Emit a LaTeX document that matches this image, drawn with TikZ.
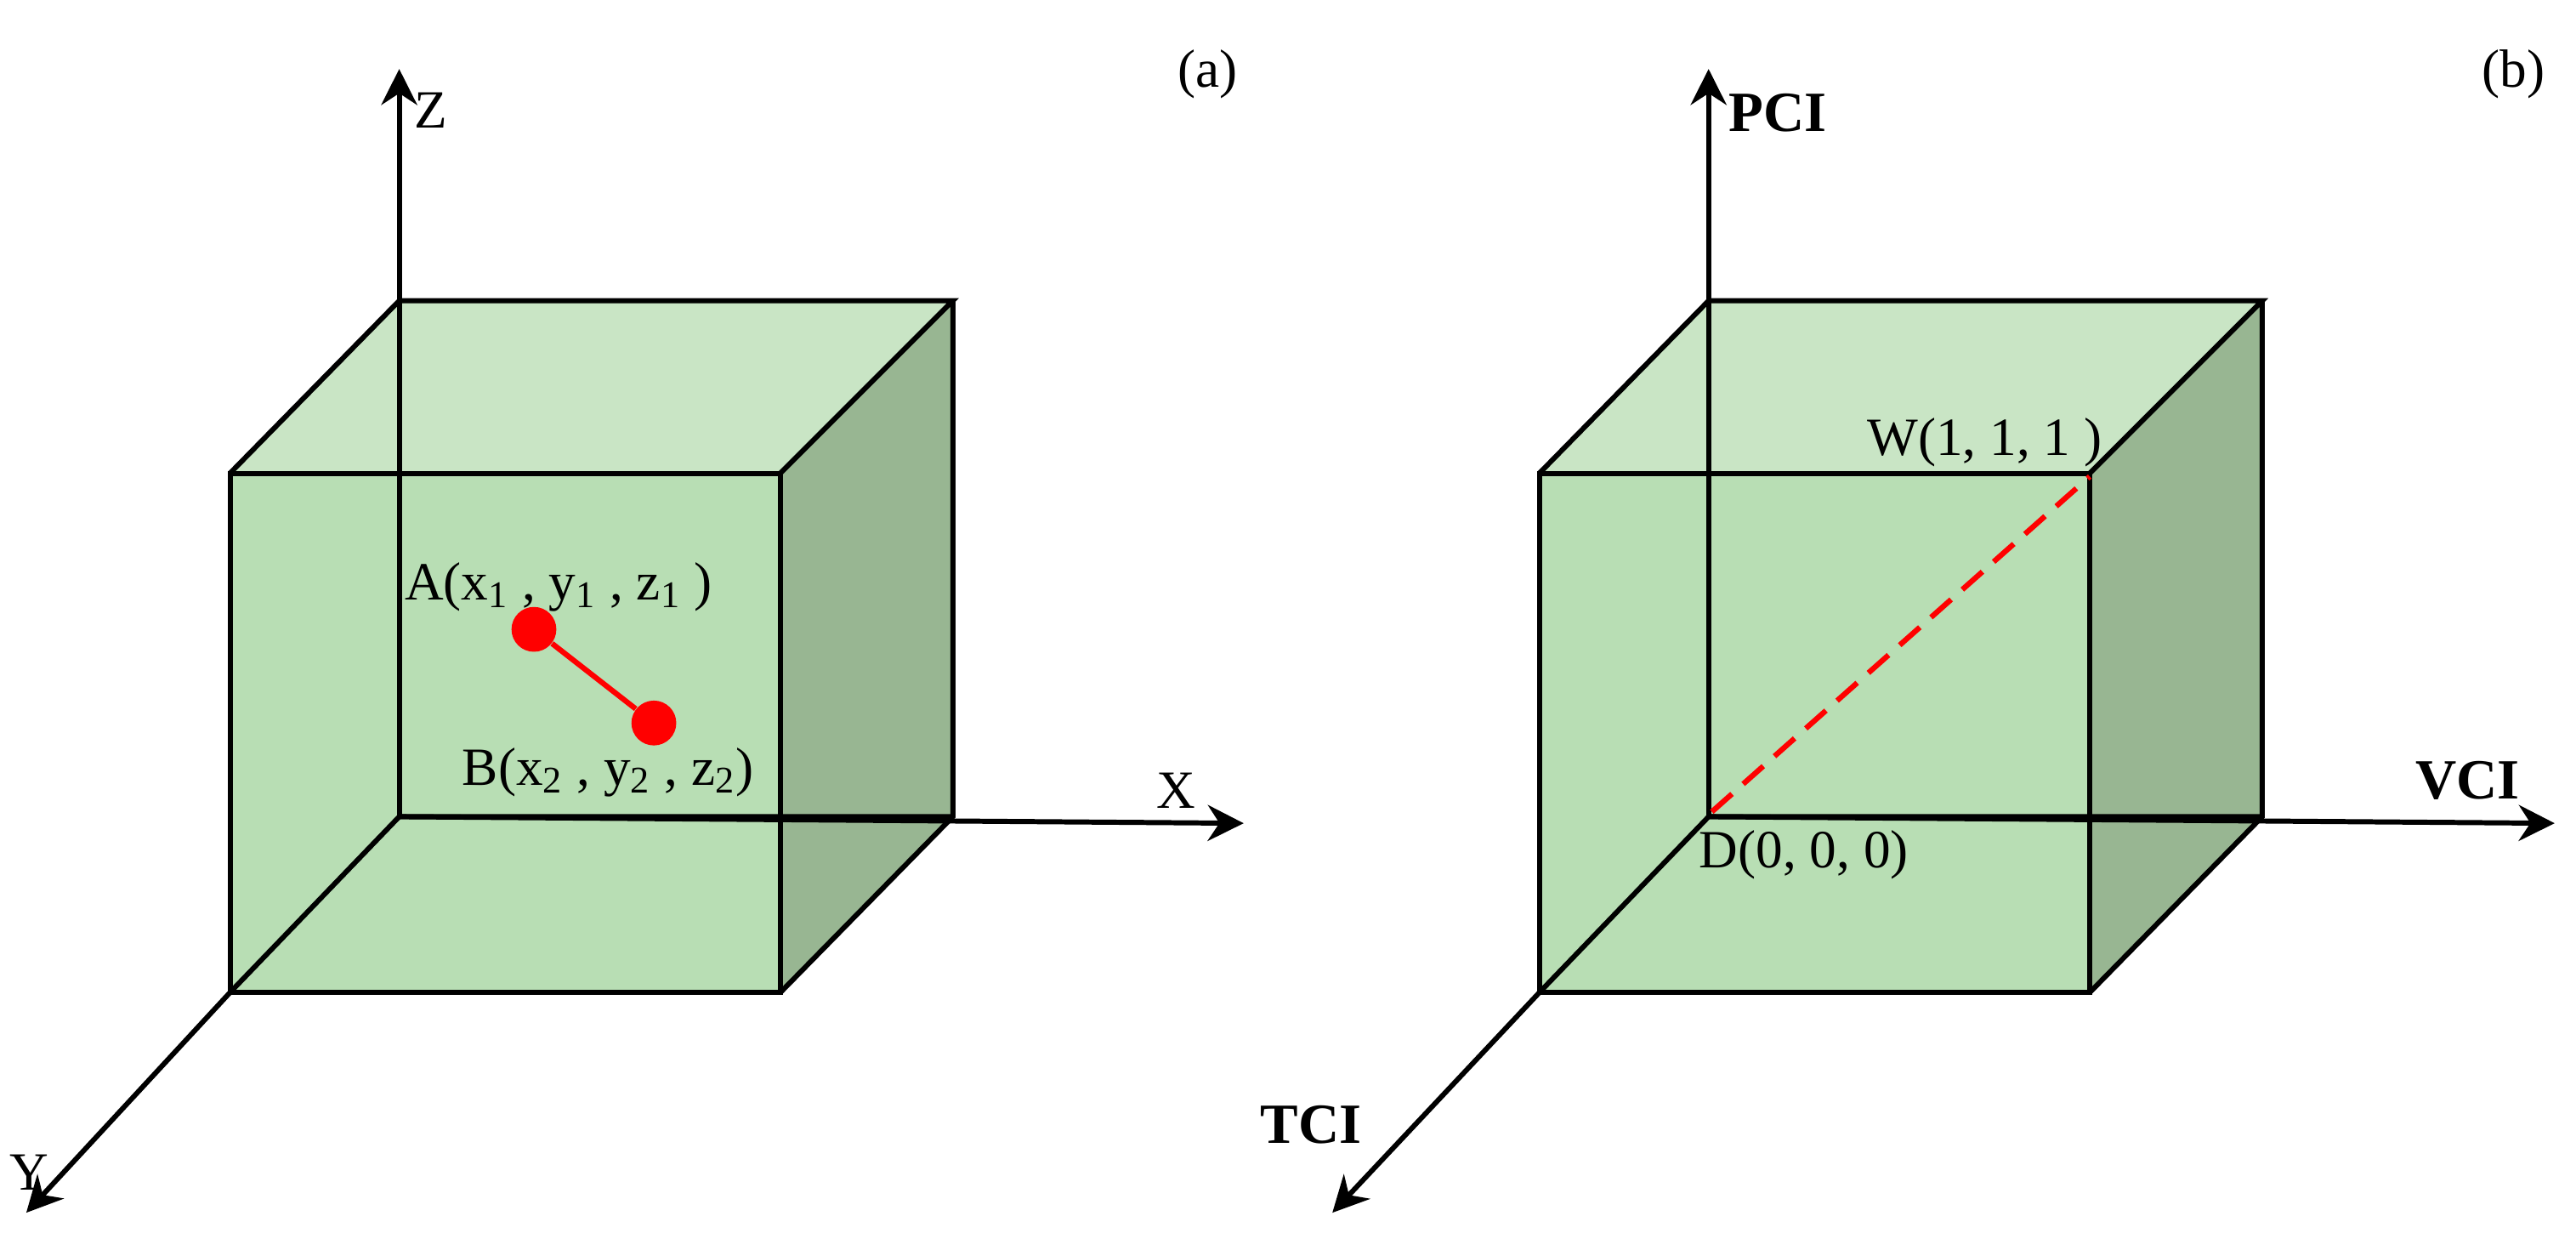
\documentclass[tikz,border=0pt]{standalone}
\usepackage{fontspec}
\setmainfont{Liberation Serif}
\usetikzlibrary{arrows.meta}
\definecolor{frontc}{RGB}{184,222,180}
\definecolor{topc}{RGB}{201,229,197}
\definecolor{sidec}{RGB}{152,182,146}
\tikzset{edge/.style={line width=1.7pt,line join=miter},
 axis/.style={line width=1.7pt,-{Stealth[length=12pt,width=12pt]}},
 lbl/.style={font=\fontsize{18}{21}\selectfont,inner sep=0pt},
 blbl/.style={font=\fontsize{19}{22}\selectfont\bfseries,inner sep=0pt},
 dotc/.style={circle,fill=red,inner sep=0pt,minimum size=15pt}}
\newcommand{\cube}[1]{%
 \begin{scope}[shift={(#1,0)}]
 \fill[topc] (140,288)--(243,183)--(580,183)--(475,288)--cycle;
 \fill[sidec] (475,288)--(580,183)--(580,497)--(475,604)--cycle;
 \fill[frontc] (140,288) rectangle (475,604);
 \draw[edge] (243,497)--(580,497) (243,497)--(140,604);
 \draw[edge] (140,288)--(243,183)--(580,183)--(475,288) (580,183)--(580,497)--(475,604);
 \draw[edge] (140,288) rectangle (475,604);
 \end{scope}}
\begin{document}
\begin{tikzpicture}[x=0.01932cm,y=-0.01932cm]
\useasboundingbox (0,0) rectangle (1568,750);
\cube{0}
\cube{797}
% left axes
\coordinate (o1) at (243,497);
\coordinate (zt) at (243,42);
\coordinate (xt) at (757,501);
\coordinate (f1) at (140,604);
\coordinate (yt) at (16,738);
\draw[axis] (o1) -- (zt);
\draw[axis] (o1) -- (xt);
\draw[axis] (f1) -- (yt);
\draw[edge] (243,183)--(o1);
\node[lbl,anchor=base west] at (252,78) {Z};
\node[lbl,anchor=base] at (716,492) {X};
\node[lbl,anchor=base] at (18,724) {Y};
\node[lbl] at (735,45) {(a)};
\node[dotc] (A) at (325,383) {};
\node[dotc] (B) at (398,440) {};
\draw[red,line width=1.8pt] (A) -- (B);
\node[lbl,anchor=base] at (340,365) {A(x\textsubscript{1} , y\textsubscript{1} , z\textsubscript{1} )};
\node[lbl,anchor=base] at (370,478) {B(x\textsubscript{2} , y\textsubscript{2} , z\textsubscript{2})};
% right axes
\coordinate (o2) at (1040,497);
\coordinate (pt) at (1040,42);
\coordinate (vt) at (1555,501);
\coordinate (f2) at (937,604);
\coordinate (tt) at (811,738);
\draw[axis] (o2) -- (pt);
\draw[axis] (o2) -- (vt);
\draw[axis] (f2) -- (tt);
\draw[edge] (1040,183)--(o2);
\node[blbl,anchor=base west] at (1052,80) {PCI};
\node[blbl,anchor=base east] at (1534,486) {VCI};
\node[blbl,anchor=base east] at (829,696) {TCI};
\node[lbl] at (1530,45) {(b)};
\coordinate (D) at (1042,494);
\coordinate (W) at (1272,290);
\draw[red,line width=1.8pt,dash pattern=on 9pt off 5pt] (D) -- (W);
\node[lbl,anchor=base] at (1208,277) {W(1, 1, 1 )};
\node[lbl,anchor=base] at (1098,528) {D(0, 0, 0)};
\end{tikzpicture}
\end{document}
